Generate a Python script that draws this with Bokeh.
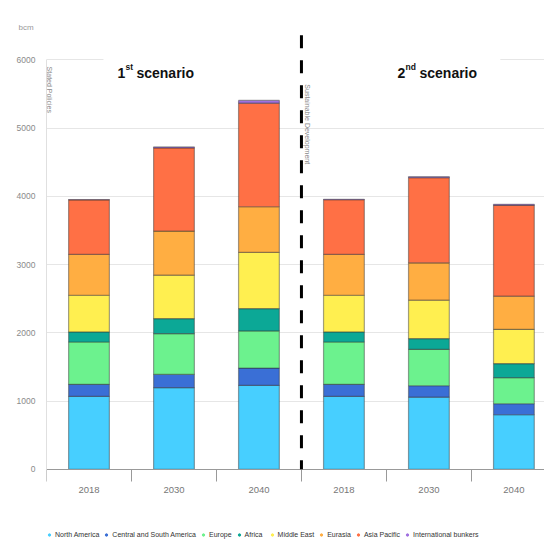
import numpy as np
from bokeh.plotting import figure
from bokeh.models import (ColumnDataSource, Range1d, FixedTicker, Legend, LegendItem,
                          Label, BoxAnnotation)
from bokeh.embed import file_html
from bokeh.resources import INLINE

# ---------------- data ----------------
categories = ["2018", "2030", "2040", "2018", "2030", "2040"]
regions = ["North America", "Central and South America", "Europe", "Africa",
           "Middle East", "Eurasia", "Asia Pacific", "International bunkers"]
north_america = [1067, 1195, 1229, 1067, 1057, 799]
central_south_america = [177, 195, 254, 177, 167, 161]
europe = [621, 598, 544, 621, 534, 382]
africa = [147, 220, 328, 147, 157, 206]
middle_east = [538, 636, 822, 538, 562, 503]
eurasia = [598, 646, 670, 598, 548, 485]
asia_pacific = [800, 1219, 1518, 802, 1248, 1331]
international_bunkers = [5, 15, 40, 5, 15, 15]
y_ticks = [0, 1000, 2000, 3000, 4000, 5000, 6000]

colors = ["#47CFFF", "#3A6FD6", "#6CF28E", "#0CA896",
          "#FFEF50", "#FFAE42", "#FF7045", "#A070E0"]

series = [north_america, central_south_america, europe, africa,
          middle_east, eurasia, asia_pacific, international_bunkers]
keys = ["s%d" % i for i in range(len(series))]

x = [i + 0.5 for i in range(len(categories))]
data = {"x": x}
for k, s in zip(keys, series):
    data[k] = s
source = ColumnDataSource(data)

FONT = "Liberation Sans"

p = figure(width=544, height=548, output_backend="svg", toolbar_location=None,
           x_range=Range1d(0, 5.86), y_range=Range1d(-1161, 6400),
           min_border_left=46, min_border_right=0, min_border_top=32, min_border_bottom=0)
p.outline_line_color = None
p.background_fill_color = "white"

# unit label as a left-shifted title
p.title.text = "bcm"
p.title.align = "left"
p.title.offset = -28
p.title.text_font = FONT
p.title.text_font_style = "normal"
p.title.text_font_size = "8px"
p.title.text_color = "#999999"
p.title.standoff = 2

rs = p.vbar_stack(keys, x="x", width=0.48, source=source, color=colors,
                  line_color="#333333", line_alpha=0.45, line_width=1.2)

# grid / axes
p.xgrid.grid_line_color = None
p.ygrid.grid_line_color = "#e6e6e6"
p.ygrid.ticker = FixedTicker(ticks=y_ticks)

p.yaxis.ticker = FixedTicker(ticks=y_ticks)
p.yaxis.bounds = (0, 6000)
p.yaxis.axis_line_color = "#e0e0e0"
p.yaxis.major_tick_line_color = None
p.yaxis.minor_tick_line_color = None
p.yaxis.major_label_text_color = "#8a8a8a"
p.yaxis.major_label_text_font = FONT
p.yaxis.major_label_text_font_size = "8.5px"
p.yaxis.major_label_standoff = 5

bounds = list(range(len(categories) + 1))
p.xaxis.ticker = FixedTicker(ticks=x, minor_ticks=bounds)
p.xaxis.fixed_location = 0
p.xaxis.major_label_overrides = {xi: c for xi, c in zip(x, categories)}
p.xaxis.axis_line_color = "#999999"
p.xaxis.major_tick_out = 0
p.xaxis.major_tick_in = 0
p.xaxis.minor_tick_out = 12
p.xaxis.minor_tick_in = 0
p.xaxis.minor_tick_line_color = "#999999"
p.xaxis.major_label_text_color = "#777777"
p.xaxis.major_label_text_font = FONT
p.xaxis.major_label_text_font_size = "9.5px"
p.xaxis.major_label_standoff = 6

# white box behind the titles
p.add_layout(BoxAnnotation(left=0.67, right=5.34, bottom=5780, top=6260,
                           fill_color="white", fill_alpha=1.0, line_color=None,
                           level="underlay"))

# dashed separator
p.segment(x0=[3.0], y0=[6360], x1=[3.0], y1=[0], line_color="black",
          line_width=3, line_dash="13 12", level="overlay")

# titles with superscripts
def title(xd, big, sup, off_sup, off_rest):
    p.add_layout(Label(x=xd, y=5800, text=big, text_font=FONT,
                       text_font_style="bold", text_font_size="14px",
                       text_color="#111111", text_baseline="alphabetic"))
    p.add_layout(Label(x=xd, y=5800, x_offset=off_sup, y_offset=6, text=sup,
                       text_font=FONT, text_font_style="bold",
                       text_font_size="8.5px", text_color="#111111",
                       text_baseline="alphabetic"))
    p.add_layout(Label(x=xd, y=5800, x_offset=off_rest, text="scenario",
                       text_font=FONT, text_font_style="bold",
                       text_font_size="14px", text_color="#111111",
                       text_baseline="alphabetic"))

title(0.835, "1", "st", 8, 19)
title(4.13, "2", "nd", 8, 22)

# vertical scenario notes
p.add_layout(Label(x=0.035, y=5900, text="Stated Policies", angle=-np.pi / 2,
                   text_font=FONT, text_font_size="7px", text_color="#888888",
                   text_align="left", text_baseline="middle"))
p.add_layout(Label(x=3.07, y=5640, text="Sustainable Development", angle=-np.pi / 2,
                   text_font=FONT, text_font_size="7px", text_color="#888888",
                   text_align="left", text_baseline="middle"))

# legend with round markers (proxy renderers, not drawn in the frame)
items = []
for name, c in zip(regions, colors):
    r = p.scatter(x=[np.nan], y=[np.nan], marker="circle", size=6, color=c)
    items.append(LegendItem(label=name, renderers=[r]))
legend = Legend(items=items, orientation="horizontal", location=(0, 9),
                label_text_font=FONT, label_text_font_size="7px",
                label_text_color="#333333", glyph_width=6, glyph_height=9,
                label_standoff=3, spacing=4, padding=0, margin=0,
                border_line_color=None, background_fill_alpha=0)
p.add_layout(legend, "center")

open("out.html", "w").write(file_html(p, INLINE))
